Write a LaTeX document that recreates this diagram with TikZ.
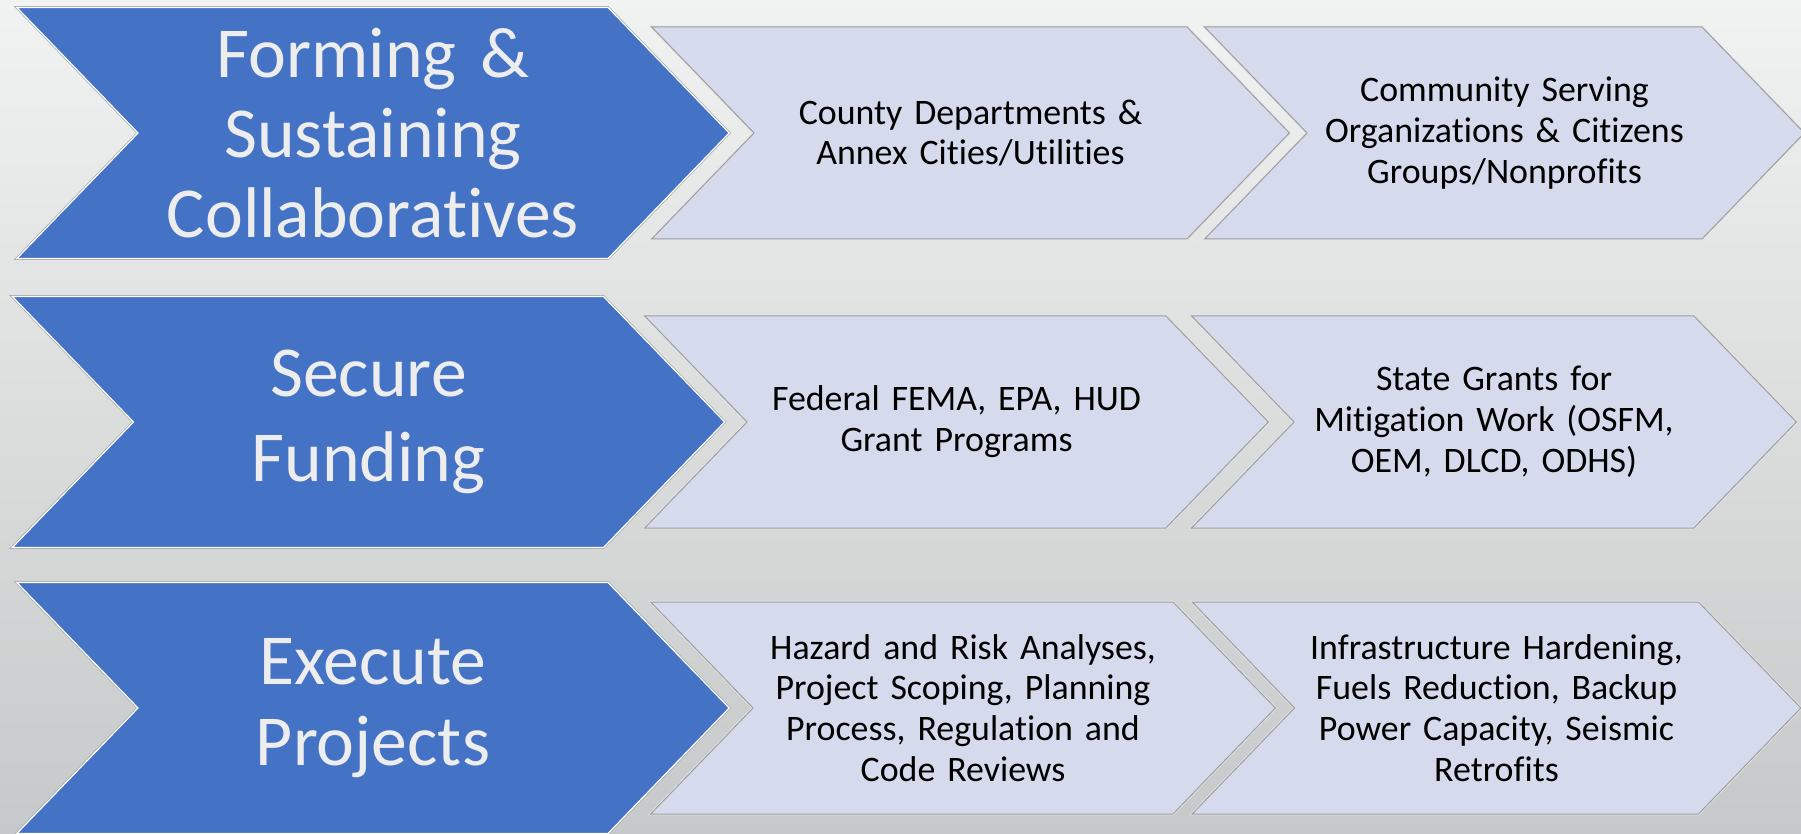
\documentclass[tikz,border=0pt]{standalone}
\usepackage{fontspec}
\setmainfont[Ligatures=NoCommon]{Carlito}
\usepackage{xcolor}
\usepackage{tikz}
\usetikzlibrary{shapes.symbols}
\definecolor{phaseblue}{HTML}{4472C4}
\definecolor{tasklilac}{HTML}{D5DAEC}
\definecolor{bgtop}{HTML}{F1F2F2}
\definecolor{bgmid}{HTML}{E3E5E5}
\definecolor{bgbottom}{HTML}{C6C9C9}
\tikzstyle{chevron} = [signal, signal to=east, signal from=west, signal pointer angle=92, inner xsep=0pt, inner ysep=0pt, align=center]
\tikzstyle{phase} = [chevron, minimum height=251bp, text width=470bp, fill=phaseblue, preaction={draw=black!35, line width=2.6bp}, draw=white, line width=1.2bp, text=white!93!black, font=\fontsize{72}{80}\selectfont]
\tikzstyle{task} = [chevron, minimum height=212bp, fill=tasklilac, preaction={draw=white!90!black, line width=2.6bp}, draw=black!38, line width=1bp, text=black, font=\fontsize{36}{41}\selectfont]

\begin{document}
\begin{tikzpicture}[x=1bp, y=1bp, node distance=289bp]
\useasboundingbox (0,0) rectangle (1801,834);
\shade[top color=bgtop, middle color=bgmid, bottom color=bgbottom] (0,0) rectangle (1801,834);
  \node (collab) [phase] at (373,701) {Forming \&\\Sustaining\\Collaboratives};
  \node (county) [task, text width=433bp, right of=collab, xshift=308.5bp]{County Departments \&\\Annex Cities/Utilities};
  \node (community) [task, text width=395bp, right of=county, xshift=245bp]{Community Serving\\Organizations \& Citizens\\Groups/Nonprofits};
  \node (funding) [phase, below of=collab, xshift=-4.5bp, font=\fontsize{72}{86}\selectfont]{Secure\\Funding};
  \node (federal) [task, text width=419bp, right of=funding, xshift=299bp]{Federal FEMA, EPA, HUD\\Grant Programs};
  \node (state) [task, text width=400bp, right of=federal, xshift=248.5bp]{State Grants for\\Mitigation Work (OSFM,\\OEM, DLCD, ODHS)};
  \node (execute) [phase, below of=funding, xshift=4.5bp, yshift=3bp, font=\fontsize{72}{82}\selectfont]{Execute\\Projects};
  \node (analyses) [task, text width=420bp, right of=execute, xshift=301bp]{Hazard and Risk Analyses,\\Project Scoping, Planning\\Process, Regulation and\\Code Reviews};
  \node (hardening) [task, text width=404bp, right of=analyses, xshift=244.5bp]{Infrastructure Hardening,\\Fuels Reduction, Backup\\Power Capacity, Seismic\\Retrofits};
\end{tikzpicture}
\end{document}
